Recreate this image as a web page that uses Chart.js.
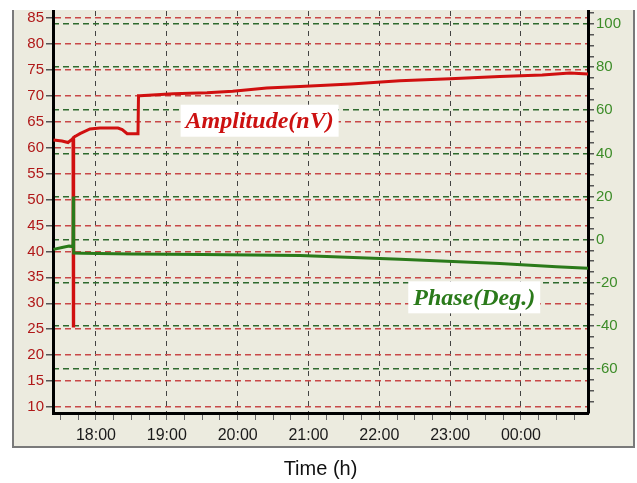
<!DOCTYPE html>
<html>
<head>
<meta charset="utf-8">
<script src="https://cdn.jsdelivr.net/npm/chart.js@4/dist/chart.umd.min.js"></script>
<style>
  body { margin: 0; background: #fff; }
  canvas { display: block; }
</style>
</head>
<body>
<canvas id="lockin-canvas" width="637" height="483"></canvas>
<script>
// time in hours (24 = 00:00 next day)
const ampTimes  = [17.40, 17.52, 17.605, 17.66, 17.675, 17.68, 17.685, 17.774, 17.915, 18.056, 18.31, 18.37, 18.44, 18.593, 18.60, 18.62, 19.09, 19.567, 19.93, 20.41, 20.88, 21.6, 22.29, 23.0, 23.70, 24.3, 24.69, 24.946];
const ampValues = [61.5, 61.3, 61.0, 61.6, 61.8, 25.6, 62.0, 62.7, 63.6, 63.8, 63.8, 63.5, 62.7, 62.7, 70.0, 70.0, 70.4, 70.6, 70.9, 71.5, 71.8, 72.3, 72.9, 73.3, 73.7, 74.0, 74.4, 74.2];

const phaseTimes  = [17.40, 17.52, 17.62, 17.675, 17.68, 17.685, 17.80, 18.5, 19.5, 20.88, 22.29, 23.70, 24.5, 24.946];
const phaseValues = [-4.5, -3.6, -3.0, -3.2, 20.0, -6.2, -6.3, -6.6, -6.9, -7.3, -9.1, -11.0, -12.5, -13.3];

const hourTicks = [18, 19, 20, 21, 22, 23, 24];
const minorHourTicks = [17.5, 17.75, 18.25, 18.5, 18.75, 19.25, 19.5, 19.75, 20.25, 20.5, 20.75, 21.25, 21.5, 21.75, 22.25, 22.5, 22.75, 23.25, 23.5, 23.75, 24.25, 24.5, 24.75];
const ampTicks = [10, 15, 20, 25, 30, 35, 40, 45, 50, 55, 60, 65, 70, 75, 80, 85];
const phaseTicks = [-60, -40, -20, 0, 20, 40, 60, 80, 100];
const phaseMinorTicks = [-75, -70, -65, -55, -50, -45, -35, -30, -25, -15, -10, -5, 5, 10, 15, 25, 30, 35, 45, 50, 55, 65, 70, 75, 85, 90, 95, 105];

function toPoints(xs, ys) {
  let pts = [];
  for (let i = 0; i < xs.length; i++) pts.push({ x: xs[i], y: ys[i] });
  return pts;
}

function hourLabel(v) {
  let h = Math.round(v) % 24;
  return (h < 10 ? '0' : '') + h + ':00';
}

const panelPlugin = {
  id: 'panel',
  beforeDraw(chart) {
    const c = chart.ctx, a = chart.chartArea;
    c.save();
    c.fillStyle = '#fff';
    c.fillRect(0, 0, chart.width, chart.height);
    c.fillStyle = '#ecebdf';
    c.fillRect(a.left - 40, a.top - 1, a.right - a.left + 86, a.bottom - a.top + 35);
    c.strokeStyle = '#7a7a7a';
    c.lineWidth = 2;
    c.beginPath();
    c.moveTo(a.left - 40, a.top - 1);
    c.lineTo(a.left - 40, a.bottom + 34);
    c.lineTo(a.right + 46, a.bottom + 34);
    c.lineTo(a.right + 46, a.top - 1);
    c.stroke();
    c.restore();
  }
};

function boxLabel(chart, text, xv, yv, color) {
  const c = chart.ctx;
  const x = chart.scales.x.getPixelForValue(xv);
  const y = chart.scales.yAmp.getPixelForValue(yv);
  c.save();
  c.font = 'italic bold 24px "Liberation Serif"';
  const w = c.measureText(text).width;
  c.fillStyle = '#fff';
  c.fillRect(x - w / 2 - 5, y - 16, w + 10, 32);
  c.fillStyle = color;
  c.textAlign = 'center';
  c.textBaseline = 'middle';
  c.fillText(text, x, y + 1);
  c.restore();
}

const labelPlugin = {
  id: 'seriesLabels',
  afterDatasetsDraw(chart) {
    boxLabel(chart, 'Amplitude(nV)', 20.31, 65.2, '#cc1111');
    boxLabel(chart, 'Phase(Deg.)', 23.34, 31.15, '#2a7a1a');
  }
};

const ctx = document.getElementById('lockin-canvas').getContext('2d');

const myChart = new Chart(ctx, {
  type: 'line',
  data: {
    datasets: [
      { label: 'Amplitude', data: toPoints(ampTimes, ampValues), yAxisID: 'yAmp', order: 2,
        borderColor: '#d01010', borderWidth: 3, pointRadius: 0, tension: 0, fill: false },
      { label: 'Phase', data: toPoints(phaseTimes, phaseValues), yAxisID: 'yPhase', order: 1,
        borderColor: '#2a7a1a', borderWidth: 3, pointRadius: 0, tension: 0, fill: false }
    ]
  },
  options: {
    responsive: false,
    animation: false,
    layout: { padding: { top: 10, left: 0, right: 0, bottom: 0 } },
    plugins: { legend: { display: false }, tooltip: { enabled: false } },
    scales: {
      x: {
        type: 'linear', min: 17.393, max: 24.946,
        afterBuildTicks: s => { s.ticks = hourTicks.concat(minorHourTicks).sort((a, b) => a - b).map(v => ({ value: v })); },
        afterFit: s => { s.height = 70; },
        border: { color: '#000', width: 3, dash: [5, 5] },
        grid: {
          color: c => (c.tick && Number.isInteger(c.tick.value)) ? '#444' : 'rgba(0,0,0,0)',
          lineWidth: 1, tickLength: 7, tickColor: '#666'
        },
        ticks: {
          autoSkip: false, maxRotation: 0, padding: 6, color: '#1a1a1a',
          font: { family: 'Arial', size: 16 },
          callback: v => Number.isInteger(v) ? hourLabel(v) : ''
        },
        title: { display: true, text: 'Time (h)', color: '#111', font: { family: 'Arial', size: 20 }, padding: { top: 0, bottom: 2 } }
      },
      yAmp: {
        position: 'left', min: 8.85, max: 86.35,
        afterBuildTicks: s => { s.ticks = ampTicks.map(v => ({ value: v })); },
        afterFit: s => { s.width = 53; },
        border: { color: '#000', width: 3, dash: [6, 4] },
        grid: { color: '#c84848', lineWidth: 1.5, tickLength: 7, tickColor: '#555' },
        ticks: { autoSkip: false, padding: 2, color: '#b01818', font: { family: 'Arial', size: 15 } }
      },
      yPhase: {
        position: 'right', min: -80.35, max: 106.0,
        afterBuildTicks: s => { s.ticks = phaseTicks.concat(phaseMinorTicks).sort((a, b) => a - b).map(v => ({ value: v })); },
        afterFit: s => { s.width = 49; },
        border: { color: '#000', width: 3, dash: [6, 4] },
        grid: {
          color: c => (c.tick && c.tick.value % 20 === 0) ? '#2e6a2e' : 'rgba(0,0,0,0)',
          lineWidth: 1.5, tickLength: 6, tickColor: '#555'
        },
        ticks: {
          autoSkip: false, padding: 2, color: '#3c8c28', font: { family: 'Arial', size: 15 },
          callback: v => (v % 20 === 0) ? String(v) : ''
        }
      }
    }
  },
  plugins: [panelPlugin, labelPlugin]
});
</script>
</body>
</html>
